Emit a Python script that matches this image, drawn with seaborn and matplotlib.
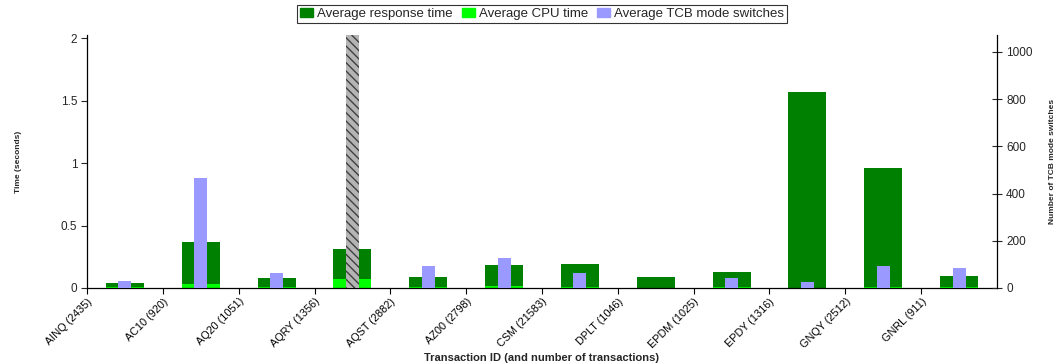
import matplotlib
matplotlib.use("Agg")
import matplotlib.pyplot as plt
import matplotlib.transforms as mtransforms
import seaborn as sns
import pandas as pd

categories = ["AINQ", "AC10", "AQ20", "AQRY", "AQST", "AZ00", "CSM", "DPLT",
              "EPDM", "EPDY", "GNQY", "GNRL"]
counts = [2435, 920, 1051, 1356, 2882, 2798, 21583, 1046, 1025, 1316, 2512, 911]
response_time = [0.038, 0.366, 0.078, 0.31, 0.086, 0.182, 0.19, 0.086, 0.126, 1.567, 0.959, 0.094]
cpu_time = [0.005, 0.03, 0.005, 0.07, 0.005, 0.014, 0.005, 0.002, 0.005, 0.003, 0.005, 0.005]
tcb_switches = [28, 464, 62, 3000, 92, 126, 62, 0, 41, 24, 92, 83]

TIME_MAX = 2.026
TCB_MAX = 1071

sns.set_theme(style="white")
plt.rcParams["font.family"] = ["Liberation Sans", "DejaVu Sans"]
plt.rcParams["hatch.linewidth"] = 1.0

df = pd.DataFrame({"cat": categories, "resp": response_time, "cpu": cpu_time,
                   "tcb": [min(v, TCB_MAX) for v in tcb_switches]})

fig = plt.figure(figsize=(10.63, 3.64), dpi=100)
ax = fig.add_axes([87 / 1063, 1 - 288 / 364, (997 - 87) / 1063, (288 - 35) / 364])

sns.barplot(data=df, x="cat", y="resp", order=categories, color="#008000",
            saturation=1, width=0.5, ax=ax, linewidth=0, label="Average response time")
sns.barplot(data=df, x="cat", y="cpu", order=categories, color="#00ff00",
            saturation=1, width=0.5, ax=ax, linewidth=0, label="Average CPU time")
ax2 = ax.twinx()
sns.barplot(data=df, x="cat", y="tcb", order=categories, color="#9999ff",
            saturation=1, width=0.17, ax=ax2, linewidth=0, label="Average TCB mode switches")
for patch, v in zip(ax2.patches, tcb_switches):
    if v > TCB_MAX:
        patch.set_facecolor("#b4b4b4")
        patch.set_hatch("\\\\\\\\")
        patch.set_edgecolor("#404040")
        patch.set_linewidth(0)

ax.set_xlim(-0.5, len(categories) - 0.5)
ax.set_ylim(0, TIME_MAX)
ax2.set_ylim(0, TCB_MAX)

ticks = [i - 0.5 for i in range(len(categories))]
labels = [f"{c} ({n})" for c, n in zip(categories, counts)]
ax.set_xticks(ticks)
ax.set_xticklabels(labels, rotation=45, ha="right", rotation_mode="anchor", fontsize=7.8)
offset = mtransforms.ScaledTranslation(13 / 100, 0, fig.dpi_scale_trans)
for lbl in ax.get_xticklabels():
    lbl.set_transform(lbl.get_transform() + offset)

ax.set_yticks([0, 0.5, 1, 1.5, 2])
ax.set_yticklabels(["0", "0.5", "1", "1.5", "2"], fontsize=8.5)
ax2.set_yticks([0, 200, 400, 600, 800, 1000])
ax2.set_yticklabels(["0", "200", "400", "600", "800", "1000"], fontsize=8.5)

ax.tick_params(axis="x", direction="out", length=4, width=0.8, pad=2, colors="black", bottom=True)
ax.tick_params(axis="y", direction="out", length=4, width=0.8, pad=3, left=True)
ax2.tick_params(axis="y", direction="inout", length=7, width=0.8, pad=3, right=True)

for a in (ax, ax2):
    a.spines["top"].set_visible(False)
    for s in ("left", "right", "bottom"):
        a.spines[s].set_color("black")
        a.spines[s].set_linewidth(0.9)
ax.spines["right"].set_visible(False)
ax2.spines["left"].set_visible(False)
ax2.spines["bottom"].set_visible(False)

ax.set_xlabel("Transaction ID (and number of transactions)", fontsize=8, fontweight="bold", labelpad=2)
ax.xaxis.set_label_coords(0.5, -0.255)
ax.set_ylabel("Time (seconds)", fontsize=6, fontweight="bold", labelpad=28)
ax2.set_ylabel("Number of TCB mode switches", fontsize=6, fontweight="bold", labelpad=12)

handles = [plt.Rectangle((0, 0), 1, 1, color=c) for c in ("#008000", "#00ff00", "#9999ff")]
leg_labels = ["Average response time", "Average CPU time", "Average TCB mode switches"]
if ax.get_legend():
    ax.get_legend().remove()
if ax2.get_legend():
    ax2.get_legend().remove()
leg = fig.legend(handles, leg_labels, loc="center", bbox_to_anchor=(542 / 1063, 1 - 14 / 364),
                 ncol=3, fontsize=9.5, frameon=True, fancybox=False, handlelength=1.0,
                 handleheight=0.7, handletextpad=0.3, columnspacing=0.7, borderpad=0.2,
                 borderaxespad=0)
leg.get_frame().set_edgecolor("black")
leg.get_frame().set_linewidth(0.8)

fig.savefig("out.png", dpi=100)
